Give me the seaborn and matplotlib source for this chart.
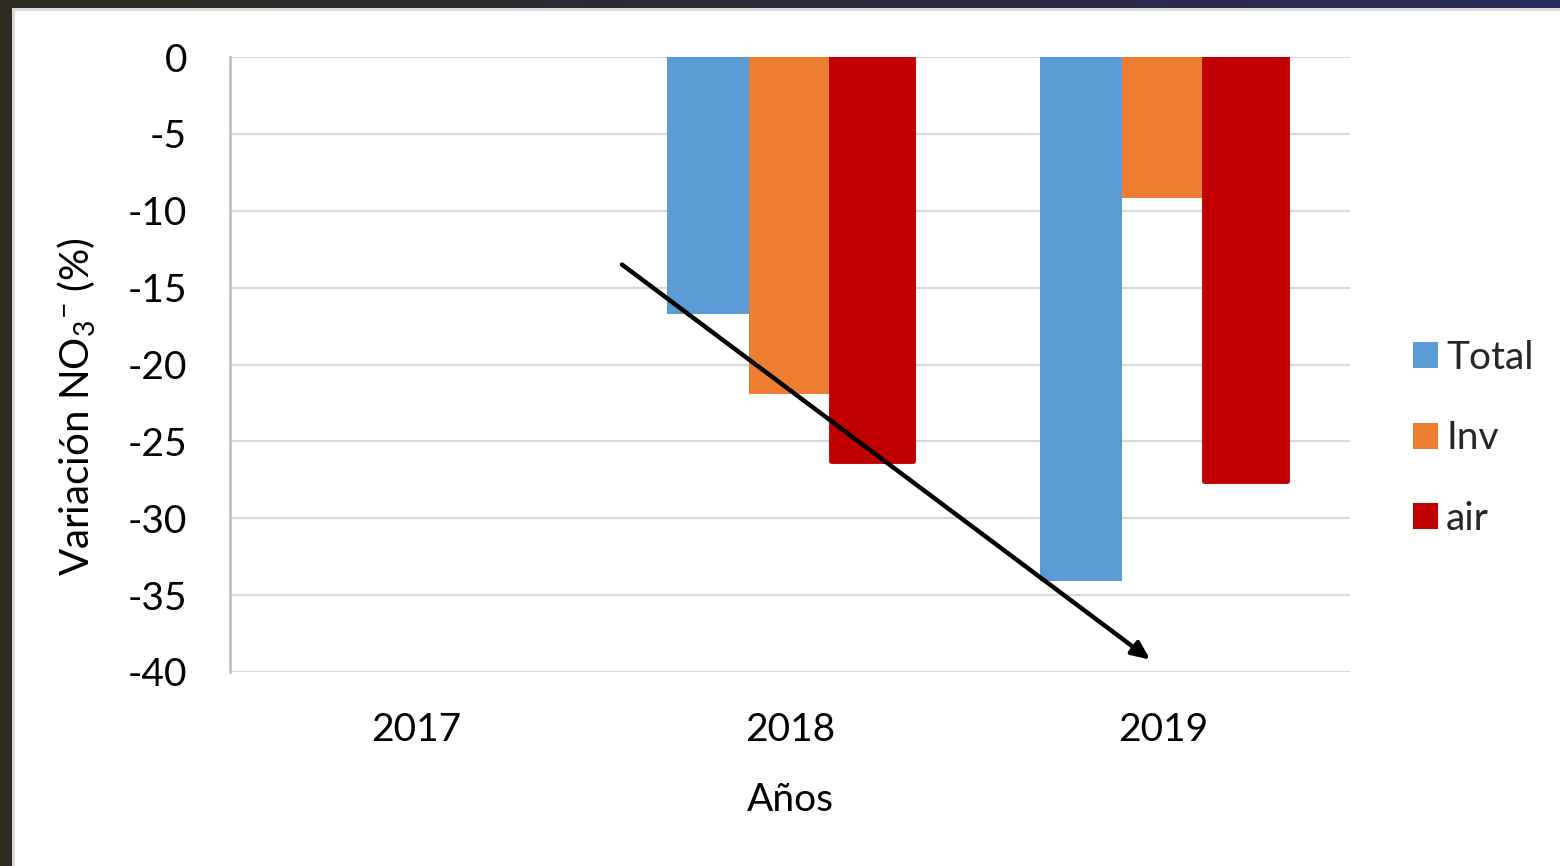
import matplotlib
matplotlib.use("Agg")
import matplotlib.pyplot as plt
import seaborn as sns
import pandas as pd
from matplotlib.patches import Rectangle

years = ["2017", "2018", "2019"]
series = ["Total", "Inv", "air"]
total_vals = [None, -16.7, -34.1]
inv_vals = [None, -21.9, -9.2]
air_vals = [None, -26.3, -27.6]
colors = ["#5b9bd5", "#ed7d31", "#c00000"]
yticks = [0, -5, -10, -15, -20, -25, -30, -35, -40]
arrow_start = (0.55, -13.5)
arrow_end = (1.965, -39.2)

rows = []
for s, vals in zip(series, [total_vals, inv_vals, air_vals]):
    for y, v in zip(years, vals):
        rows.append({"Año": y, "Serie": s, "Valor": v})
df = pd.DataFrame(rows)

sns.set_theme(style="white")
plt.rcParams["font.family"] = ["Lato", "DejaVu Sans"]
plt.rcParams["mathtext.fontset"] = "custom"
plt.rcParams["mathtext.rm"] = "Lato"
plt.rcParams["mathtext.it"] = "Lato"

fig = plt.figure(figsize=(15.6, 8.66), dpi=100, facecolor="#2e2c1e")
# white slide area with light border
fig.patches.append(Rectangle((12/1560, 0), 1, 1 - 8/866, transform=fig.transFigure,
                             facecolor="#d9d9d9", edgecolor="none", zorder=-10))
fig.patches.append(Rectangle((15/1560, 0), 1, 1 - 11/866, transform=fig.transFigure,
                             facecolor="white", edgecolor="none", zorder=-9))
# top band: gradient from dark olive to dark blue
n = 40
for i in range(n):
    t = i / (n - 1)
    c0 = (0x2e/255, 0x2c/255, 0x1e/255)
    c1 = (0x2a/255, 0x2a/255, 0x5a/255)
    col = tuple(a + (b - a) * t for a, b in zip(c0, c1))
    fig.patches.append(Rectangle((i / n, 1 - 8/866), 1 / n + 0.001, 8/866,
                                 transform=fig.transFigure, facecolor=col,
                                 edgecolor="none", zorder=-9))

ax = fig.add_axes([230/1560, 1 - 672/866, 1120/1560, 615/866])
ax.set_zorder(1)
ax.set_facecolor("white")

sns.barplot(data=df, x="Año", y="Valor", hue="Serie", order=years, hue_order=series,
            palette=colors, width=0.66, gap=0, saturation=1, ax=ax, zorder=3,
            linewidth=0)

# air bars with a thick same-colour edge
for bar in ax.containers[2]:
    bar.set_edgecolor(colors[2])
    bar.set_linewidth(3.5)
    bar.set_joinstyle("round")

ax.set_ylim(-40, 0)
ax.set_yticks(yticks)
ax.set_yticklabels([str(t) for t in yticks])
ax.set_xlim(-0.5, 2.5)
ax.tick_params(axis="both", length=0, labelsize=28, colors="black")
ax.tick_params(axis="y", pad=31)
ax.tick_params(axis="x", pad=29)
ax.yaxis.grid(True, color="#d9d9d9", linewidth=1.6, zorder=0)
ax.set_axisbelow(True)
for side in ["top", "right", "bottom"]:
    ax.spines[side].set_visible(False)
ax.spines["left"].set_color("#bfbfbf")
ax.spines["left"].set_linewidth(2)

ax.set_xlabel("Años", fontsize=28, labelpad=24, color="black")
ax.set_ylabel(r"Variación NO$_3$$^{-}$ (%)", fontsize=29, color="black")
ax.yaxis.set_label_coords(-0.118, 0.431)

ax.annotate("", xy=arrow_end, xytext=arrow_start,
            arrowprops=dict(arrowstyle="-|>,head_length=0.9,head_width=0.4",
                            color="black", lw=3.2, shrinkA=0, shrinkB=0), zorder=5)

handles, labels = ax.get_legend_handles_labels()
leg = ax.legend(handles, labels, loc="center left", bbox_to_anchor=(1.025, 0.38),
                frameon=False, fontsize=28, handlelength=0.65, handleheight=0.65,
                handletextpad=0.2, labelspacing=1.15)

fig.savefig("out.png", dpi=100, facecolor=fig.get_facecolor())
